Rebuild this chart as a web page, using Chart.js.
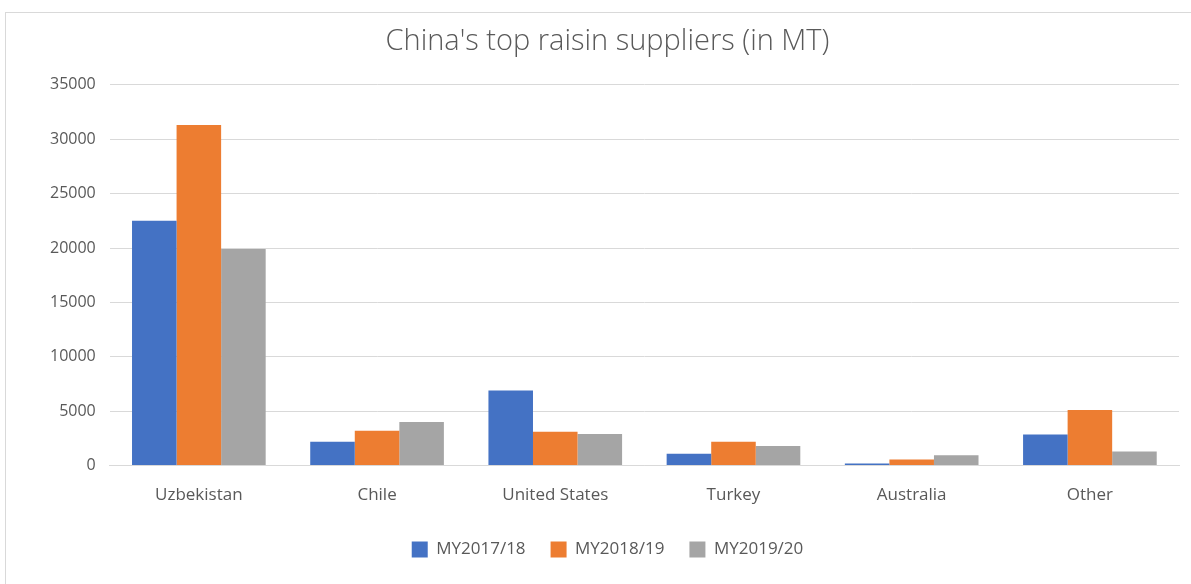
<!DOCTYPE html>
<html>
<head>
<meta charset="utf-8">
<script src="https://cdn.jsdelivr.net/npm/chart.js@4.4.0/dist/chart.umd.min.js"></script>
<style>
  html, body { margin: 0; padding: 0; background: #fff; }
  #wrap { position: absolute; left: 0; top: 0; width: 1191px; height: 584px; }
  #frame { position: absolute; left: 5px; top: 12px; width: 1190px; height: 580px; border: 1px solid #d9d9d9; box-sizing: border-box; }
</style>
</head>
<body>
<div id="wrap">
  <div id="frame"></div>
  <canvas id="raisinChart" width="1191" height="584"></canvas>
</div>
<script>
let countries = ['Uzbekistan', 'Chile', 'United States', 'Turkey', 'Australia', 'Other'];
let my1718 = [22500, 2200, 6900, 1100, 200, 2850];
let my1819 = [31300, 3200, 3100, 2200, 550, 5100];
let my1920 = [19900, 4000, 2900, 1800, 950, 1300];
let yTicks = [0, 5000, 10000, 15000, 20000, 25000, 30000, 35000];

window.onload = function(){
  let ctx = document.getElementById("raisinChart").getContext('2d');
  let font = "'Open Sans', 'Liberation Sans', sans-serif";

  let chart = new Chart(ctx, {
    type: 'bar',
    data: {
      labels: countries,
      datasets: [
        { label: 'MY2017/18', data: my1718, backgroundColor: '#4472C4' },
        { label: 'MY2018/19', data: my1819, backgroundColor: '#ED7D31' },
        { label: 'MY2019/20', data: my1920, backgroundColor: '#A5A5A5' }
      ]
    },
    options: {
      responsive: false,
      animation: false,
      categoryPercentage: 0.75,
      barPercentage: 1.0,
      layout: { padding: { left: 36, right: 12, top: 24, bottom: 16 } },
      plugins: {
        title: {
          display: true,
          text: "China's top raisin suppliers (in MT)",
          color: '#595959',
          font: { family: font, size: 29, weight: '300' },
          padding: { top: 0, bottom: 26 }
        },
        legend: {
          position: 'bottom',
          labels: {
            color: '#595959',
            font: { family: font, size: 17 },
            boxWidth: 16,
            boxHeight: 16,
            padding: 25
          }
        },
        tooltip: { enabled: false }
      },
      scales: {
        x: {
          grid: { display: false },
          border: { color: '#d9d9d9' },
          ticks: { color: '#595959', font: { family: font, size: 17 }, padding: 11 }
        },
        y: {
          min: 0,
          max: 35000,
          afterBuildTicks: function(axis){ axis.ticks = yTicks.map(function(v){ return { value: v }; }); },
          grid: { color: '#d9d9d9', drawTicks: false },
          border: { display: false },
          ticks: {
            color: '#595959',
            font: { family: font, size: 16 },
            padding: 14,
            callback: function(v){ return String(v); }
          }
        }
      }
    }
  });
}
</script>
</body>
</html>
